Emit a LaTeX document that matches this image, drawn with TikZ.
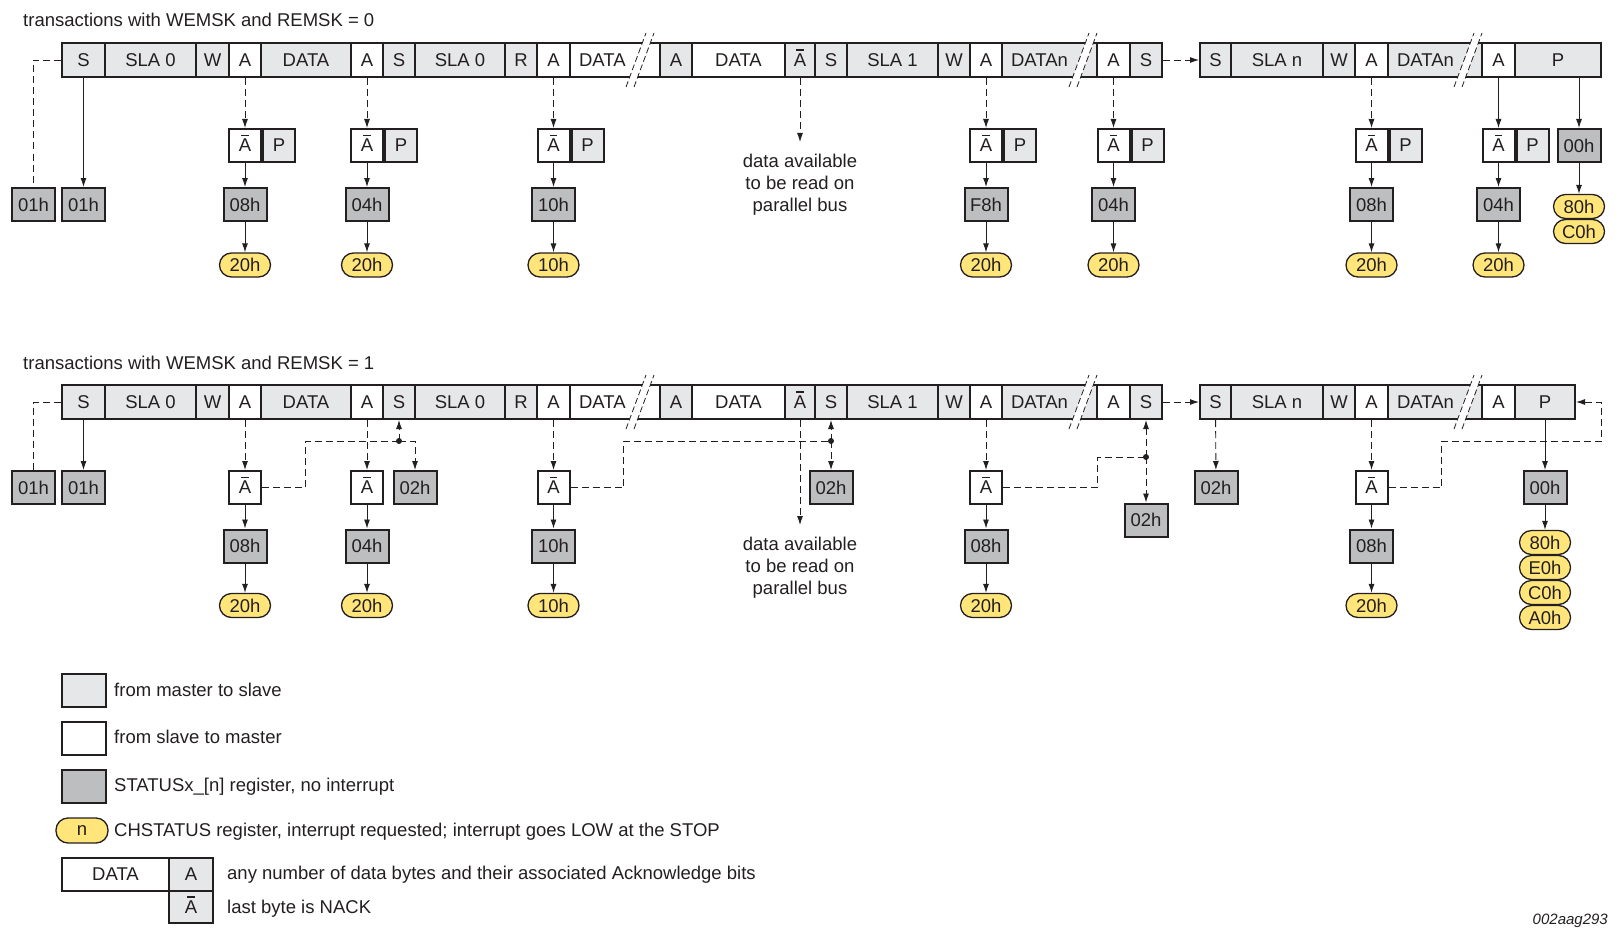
\documentclass[tikz,border=0pt]{standalone}
\usepackage{fontspec}
\setmainfont{Liberation Sans}
\usepackage{xcolor}
\usepackage{tikz}
\usetikzlibrary{arrows.meta, positioning, calc}
\definecolor{ink}{RGB}{35,31,32}
\definecolor{mlight}{RGB}{230,231,232}
\definecolor{mdark}{RGB}{188,190,192}
\definecolor{myellow}{RGB}{255,229,122}
\newcommand{\lbl}{\fontsize{18.5}{22}\selectfont}
\newcommand{\nack}{\ooalign{A\cr\hidewidth\rule[0.84em]{0.38em}{0.075em}\hidewidth\cr}}

\tikzset{
  cell/.style={draw=ink, line width=2pt, minimum height=34pt, inner sep=0pt, text=ink},
  mcell/.style={cell, fill=mlight},
  scell/.style={cell, fill=white},
  sbox/.style={scell, minimum width=32pt, minimum height=33pt},
  mbox/.style={mcell, minimum width=32pt, minimum height=33pt},
  reg/.style={cell, fill=mdark, minimum width=43pt, minimum height=33pt},
  irq/.style={draw=ink, line width=1.3pt, fill=myellow, text=ink, rounded corners=12pt, minimum width=51pt, minimum height=24pt, inner sep=0pt},
  link/.style={draw=ink, line width=0.9pt, -{Latex[length=9pt,width=6pt]}},
  dlink/.style={link, dash pattern=on 7pt off 4pt},
  dline/.style={draw=ink, line width=0.9pt, dash pattern=on 7pt off 4pt},
  note/.style={align=center, inner xsep=0pt, inner ysep=12pt, text=ink},
  txt/.style={anchor=west, inner sep=0pt, text height=13.2pt, text depth=0pt, text=ink},
  brk/.style={draw=ink, line width=0.8pt, dash pattern=on 6pt off 3pt}
}

\begin{document}
\begin{tikzpicture}[x=1pt, y=-1pt, font=\lbl]
\useasboundingbox (0,0) rectangle (1619,931);

% titles
\node[txt] (title0) at (23,20) {transactions with WEMSK and REMSK = 0};
\node[txt] (title1) at (23,363) {transactions with WEMSK and REMSK = 1};

% the two bus transfers
\foreach \r/\y in {t/60,b/402}{
  \foreach \n/\a/\b/\t/\s in {s1/62/105/S/mcell, sla0/105/196/SLA 0/mcell, w1/196/229/W/mcell,
      a1/229/261/A/scell, d1/261/351/DATA/mcell, a2/351/383/A/scell, s2/383/415/S/mcell,
      sla0r/415/505/SLA 0/mcell, r1/505/537/R/mcell, a3/537/570/A/scell, a4/660/692/A/mcell,
      d3/692/785/DATA/scell, na/785/815/\nack/mcell, s3/815/847/S/mcell, sla1/847/938/SLA 1/mcell,
      w2/938/970/W/mcell, a5/970/1002/A/scell, a6/1097/1130/A/scell, s4/1130/1162/S/mcell,
      s5/1200/1231/S/mcell, slan/1231/1323/SLA n/mcell, w3/1323/1355/W/mcell, a7/1355/1388/A/scell,
      a8/1482/1515/A/scell}
    \node[\s, minimum width=\b-\a] (\r\n) at ({(\a+\b)/2},\y) {\t};
  \foreach \n/\a/\b/\t/\s in {d2/570/660/DATA/scell, dn1/1002/1097/DATAn/mcell, dn2/1388/1482/DATAn/mcell}{
    \pgfmathsetmacro\tw{\b-\a-18}
    \node[\s, text width=\tw pt, inner xsep=9pt, align=left] (\r\n) at ({(\a+\b)/2},\y) {\t};
  }
  % breaks
  \foreach \x in {640,1083,1468}{
    \fill[white] (\x-14,\y+27) -- (\x+6,\y-27) -- (\x+14,\y-27) -- (\x-6,\y+27) -- cycle;
    \draw[brk] (\x-14,\y+27) -- (\x+6,\y-27) (\x-6,\y+27) -- (\x+14,\y-27);
  }
}
\node[mcell, minimum width=86pt] (tstop) at (1558,60) {P};
\node[mcell, minimum width=60pt] (bstop) at (1545,402) {P};

% upper transfer
\node[reg] (t01a) at (33.5,204.5) {01h};
\node[reg] (t01b) at (83.5,204.5) {01h};
\draw[dline] (ts1.west) -| (t01a);
\draw[link] (ts1) -- (t01b);
\foreach \c/\x/\st/\ir/\b/\k in {1/245/08h/20h/a1/dlink, 2/367/04h/20h/a2/dlink, 3/553.5/10h/10h/a3/dlink,
    4/986/F8h/20h/a5/dlink, 5/1113.5/04h/20h/a6/dlink, 6/1371.5/08h/20h/a7/dlink, 7/1498.5/04h/20h/a8/link}{
  \node[sbox] (tn\c) at (\x,145.5) {\nack};
  \node[mbox, right=0pt of tn\c] (tq\c) {P};
  \node[reg] (tr\c) at (\x,204.5) {\st};
  \node[irq] (ti\c) at (\x,265) {\ir};
  \draw[\k] (t\b) -- (tn\c);
  \draw[link] (tn\c) -- (tr\c);
  \draw[link] (tr\c) -- (ti\c);
}
\node[reg] (t00) at (1579,145.5) {00h};
\node[irq] (t80h) at (1579,206.5) {80h};
\node[irq] (tC0h) at (1579,231.5) {C0h};
\draw[link] (tstop.south -| t00) -- (t00);
\draw[link] (t00) -- (t80h);
\node[note, anchor=north] (tnote) at (800,142) {data available\\to be read on\\parallel bus};
\draw[dlink] (tna) -- (tnote);
\draw[dlink] (ts4) -- (ts5);

% lower transfer
\node[reg] (b01a) at (33.5,487.5) {01h};
\node[reg] (b01b) at (83.5,487.5) {01h};
\draw[dline] (bs1.west) -| (b01a);
\draw[link] (bs1) -- (b01b);
\foreach \c/\x/\st/\ir/\b in {1/245/08h/20h/a1, 2/367/04h/20h/a2, 3/553.5/10h/10h/a3,
    4/986/08h/20h/a5, 5/1371.5/08h/20h/a7}{
  \node[sbox] (bn\c) at (\x,487.5) {\nack};
  \node[reg] (br\c) at (\x,546) {\st};
  \node[irq] (bi\c) at (\x,605.5) {\ir};
  \draw[dlink] (b\b) -- (bn\c);
  \draw[link] (bn\c) -- (br\c);
  \draw[link] (br\c) -- (bi\c);
}
\node[reg] (b02a) at (415,487.5) {02h};
\node[reg] (b02b) at (831,487.5) {02h};
\node[reg] (b02c) at (1146,520) {02h};
\node[reg] (b02d) at (1216,487.5) {02h};
\coordinate (bj1) at (399,441);
\coordinate (bj2) at (831,441);
\coordinate (bj3) at (1146,457);
\draw[dline] (bn1.east) -- ++(43,0) |- (bj1);
\draw[dlink] (bj1) -- (bs2);
\draw[dlink] (bj1) -| (b02a);
\draw[dline] (bn3.east) -- ++(53,0) |- (bj2);
\draw[dlink] (bj2) -- (bs3);
\draw[dlink] (bj2) -- (b02b);
\draw[dline] (bn4.east) -- ++(94.5,0) |- (bj3);
\draw[dlink] (bj3) -- (bs4);
\draw[dlink] (bj3) -- (b02c);
\fill[ink] (bj1) circle (3pt) (bj2) circle (3pt) (bj3) circle (3pt);
\draw[dlink] (bs4) -- (bs5);
\draw[dlink] (bs5) -- (b02d);
\draw[dlink] (bn5.east) -- ++(53,0) |- ++(160,-46.5) |- (bstop.east);
\node[reg] (b00) at (1545,487.5) {00h};
\draw[link] (bstop) -- (b00);
\foreach \v/\y in {80h/542.5, E0h/567.5, C0h/592.5, A0h/617.5}
  \node[irq] (b\v) at (1545,\y) {\v};
\draw[link] (b00) -- (b80h);
\node[note, anchor=north] (bnote) at (800,525) {data available\\to be read on\\parallel bus};
\draw[dlink] (bna) -- (bnote);

% key
\node[mcell, minimum width=44pt, minimum height=33pt] (key1) at (84,690.5) {};
\node[txt] (key1t) at (114,690) {from master to slave};
\node[scell, minimum width=44pt, minimum height=33pt] (key2) at (84,738.5) {};
\node[txt] (key2t) at (114,737) {from slave to master};
\node[reg, minimum width=44pt] (key3) at (84,786.5) {};
\node[txt] (key3t) at (114,785) {STATUSx\_[n] register, no interrupt};
\node[irq, minimum width=52pt, minimum height=25pt] (key4) at (82,830.5) {n};
\node[txt] (key4t) at (114,830) {CHSTATUS register, interrupt requested; interrupt goes LOW at the STOP};
\node[scell, minimum width=107pt, minimum height=33pt] (key5) at (115.5,874.5) {DATA};
\node[mbox, minimum width=44pt] (key5a) at (191,874.5) {A};
\node[mbox, minimum width=44pt, minimum height=32pt] (key5n) at (191,907) {\nack};
\node[txt] (key5t) at (227,873) {any number of data bytes and their associated Acknowledge bits};
\node[txt] (key6t) at (227,907) {last byte is NACK};
\node[anchor=east, inner sep=0pt, text=ink, font=\fontsize{15}{18}\selectfont\itshape] (fig) at (1608,921) {002aag293};
\end{tikzpicture}
\end{document}
